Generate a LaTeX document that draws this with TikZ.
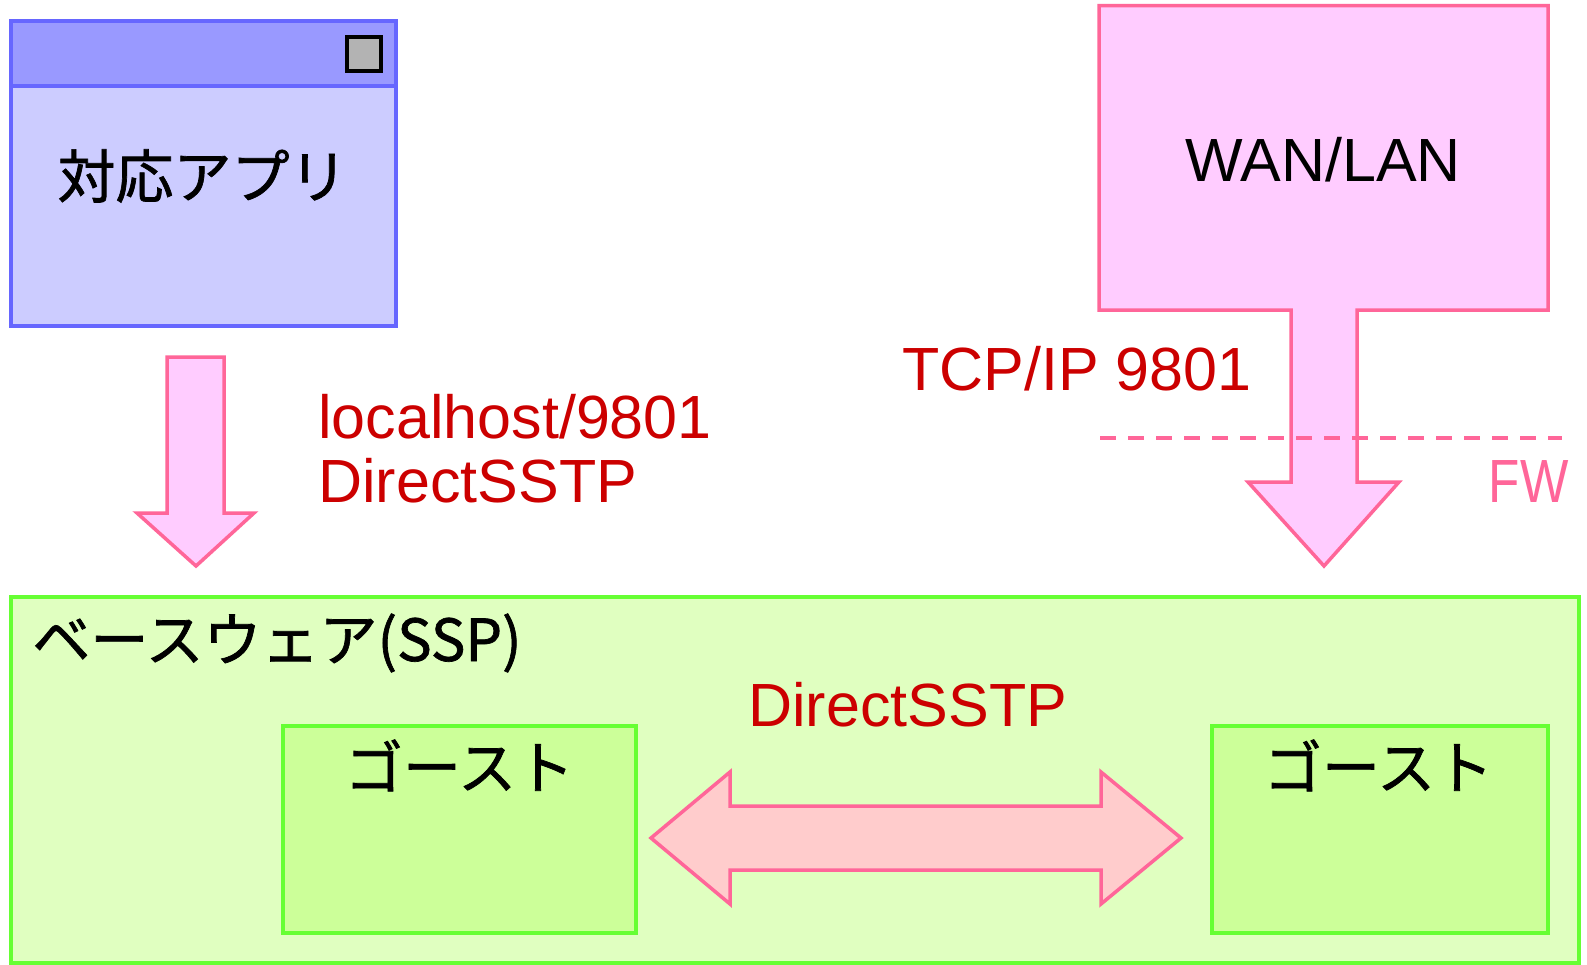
\documentclass[tikz,border=0pt]{standalone}
\usepackage{fontspec}
\setmainfont{Liberation Sans}
\newfontfamily\jpfont[FakeBold=1.2]{Noto Sans CJK JP}
\definecolor{appline}{HTML}{6666FF}
\definecolor{apptitle}{HTML}{9999FF}
\definecolor{appbody}{HTML}{CCCCFF}
\definecolor{btngray}{HTML}{B3B3B3}
\definecolor{pinkfill}{HTML}{FFCCFF}
\definecolor{pinkline}{HTML}{FF6699}
\definecolor{txtred}{HTML}{CC0000}
\definecolor{basefill}{HTML}{E0FFC0}
\definecolor{ghostfill}{HTML}{CCFF99}
\definecolor{greenline}{HTML}{66FF33}
\definecolor{dblfill}{HTML}{FFCCCC}
\begin{document}
\begin{tikzpicture}[x=0.5pt,y=-0.5pt,
  box/.style={rectangle, line width=2pt, inner sep=0pt, outer sep=0pt},
  lbl/.style={text=txtred, font=\fontsize{30.5pt}{36pt}\selectfont, inner sep=0pt},
  jp/.style={font=\jpfont\fontsize{29pt}{34pt}\selectfont, inner sep=0pt, text=black},
  blockarrow/.style={fill=pinkfill, draw=pinkline, line width=1.75pt, line join=miter},
  fwline/.style={draw=pinkline, line width=1.75pt, dash pattern=on 8pt off 6pt}]
\useasboundingbox (0,0) rectangle (1587,965);
\fill[white] (0,0) rectangle (1587,965);

% application window
\node[box, draw=appline, fill=appbody, minimum width=192.5pt, minimum height=152.5pt] (app) at (203.5,173.5) {};
\node[box, draw=appline, fill=apptitle, minimum width=192.5pt, minimum height=32.5pt] (title) at (203.5,53.5) {};
\node[box, draw=black, fill=btngray, minimum width=17pt, minimum height=17pt] (btn) at (364,54) {};
\node[jp, anchor=base] (apptext) at (202.5,198) {対応アプリ};

% left down arrow
\draw[blockarrow] (167,357) -- (224,357) -- (224,513) -- (254,513) -- (196,566) -- (137,513) -- (167,513) -- cycle;
\node[lbl, anchor=base west] (lh1) at (318,438) {localhost/9801};
\node[lbl, anchor=base west] (lh2) at (318,502) {DirectSSTP};

% WAN/LAN box with arrow
\draw[blockarrow] (1099,5.5) -- (1548,5.5) -- (1548,310) -- (1357,310) -- (1357,482) -- (1399,482) -- (1324,566) -- (1248,482) -- (1291,482) -- (1291,310) -- (1099,310) -- cycle;
\node[font=\fontsize{30.5pt}{36pt}\selectfont, inner sep=0pt, anchor=base] (wan) at (1323,181) {WAN/LAN};
\node[lbl, anchor=base west] (tcp) at (902,390) {TCP/IP 9801};
\coordinate (fwL) at (1100,438);
\coordinate (fwR) at (1562,438);
\draw[fwline] (fwL) -- (fwR);
\node[text=pinkline, font=\fontsize{30.5pt}{36pt}\selectfont, inner sep=0pt, anchor=base east] (fw) at (1569,502) {\scalebox{0.84}[1]{FW}};

% base ware
\node[box, draw=greenline, fill=basefill, minimum width=784pt, minimum height=183pt] (base) at (795,780) {};
\node[jp, anchor=base west] (basetext) at (32,661) {ベースウェア(SSP)};
\node[box, draw=greenline, fill=ghostfill, minimum width=176.5pt, minimum height=103.5pt] (ghostL) at (459.5,829.5) {};
\node[box, draw=greenline, fill=ghostfill, minimum width=168pt, minimum height=103.5pt] (ghostR) at (1380,829.5) {};
\node[jp, anchor=base] (gtL) at (459.5,789) {ゴースト};
\node[jp, anchor=base] (gtR) at (1378.5,789) {ゴースト};

% double arrow
\draw[blockarrow, fill=dblfill] (651,838) -- (730,772) -- (730,806) -- (1101,806) -- (1101,772) -- (1181,838) -- (1101,904) -- (1101,870) -- (730,870) -- (730,904) -- cycle;
\node[lbl, anchor=base west] (dsstp) at (748,726) {DirectSSTP};
\end{tikzpicture}
\end{document}
